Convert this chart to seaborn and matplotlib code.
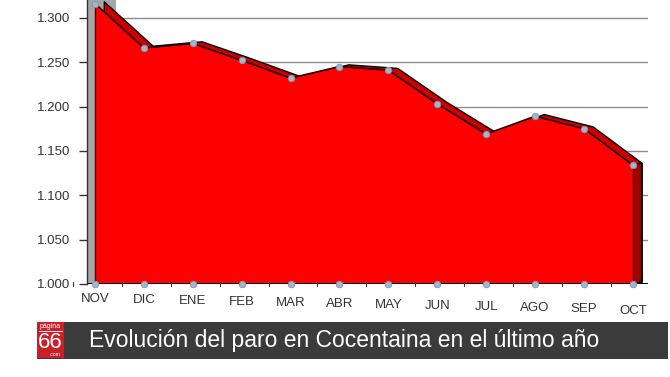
import matplotlib
matplotlib.use("Agg")
import matplotlib.pyplot as plt
import matplotlib.transforms as mtransforms
from matplotlib.patches import Rectangle, Polygon
import numpy as np
import pandas as pd
import seaborn as sns

# ---- data ----
months = ["NOV", "DIC", "ENE", "FEB", "MAR", "ABR", "MAY", "JUN", "JUL", "AGO", "SEP", "OCT"]
paro = [1.316, 1.266, 1.271, 1.252, 1.232, 1.245, 1.241, 1.203, 1.169, 1.189, 1.175, 1.134]
yticks = [1.000, 1.050, 1.100, 1.150, 1.200, 1.250, 1.300]
ytick_labels = ["1.000", "1.050", "1.100", "1.150", "1.200", "1.250", "1.300"]
title = "Evolución del paro en Cocentaina en el último año"

sns.set_style("white")
plt.rcParams["font.family"] = ["Liberation Sans", "DejaVu Sans"]

df = pd.DataFrame({"mes": months, "x": np.arange(len(months)), "paro": paro})
base = 1.0

W, H = 670, 377
fig = plt.figure(figsize=(W / 100, H / 100), dpi=100)
fig.patch.set_facecolor("white")
ax = fig.add_axes([87 / W, 1 - 284 / H, (648 - 87) / W, 284 / H])
ax.set_xlim(-0.164, 11.31)
ax.set_ylim(1.0, 1.320)
ax.set_facecolor("white")

x = df["x"].to_numpy(dtype=float)
y = df["paro"].to_numpy(dtype=float)
dx, dy = 0.18, 0.0025

# gridlines
for t in yticks[1:]:
    ax.axhline(t, color="#8c8c8c", lw=1.0, zorder=0)

# grey side wall
ax.add_patch(Rectangle((-0.164, 1.0), 0.164, 0.32, facecolor="#a6a6a6", edgecolor="none", zorder=1))
ax.add_patch(Rectangle((0.0, 1.303), 0.42, 0.02, facecolor="#a6a6a6", edgecolor="none", zorder=1))

# back (depth) face
ax.fill_between(x + dx, base + dy, y + dy, color="#cc0000", edgecolor="black", lw=1.0, zorder=2)
# right side face
ax.add_patch(Polygon([[x[-1], base], [x[-1], y[-1]], [x[-1] + dx, y[-1] + dy], [x[-1] + dx, base + dy]],
                     closed=True, facecolor="#a00000", edgecolor="black", lw=1.0, zorder=2.5))
# front face
ax.fill_between(x, base, y, color="#ff0000", edgecolor="none", zorder=3)
sns.lineplot(data=df, x="x", y="paro", color="#1a0000", lw=1.2, ax=ax, zorder=4)
ax.plot([x[0], x[0]], [base, y[0]], color="#600000", lw=1.0, zorder=4)

# markers
sns.scatterplot(data=df, x="x", y="paro", s=22, color="#a4b6cc", edgecolor="#7f93ab", linewidth=0.6,
                ax=ax, zorder=5)
sns.scatterplot(x=x, y=[base] * len(x), s=22, color="#a4b6cc", edgecolor="#7f93ab", linewidth=0.6,
                ax=ax, zorder=5, clip_on=False)

# baseline
ax.axhline(base, color="black", lw=1.4, zorder=4.5)

for s in ["top", "right", "bottom"]:
    ax.spines[s].set_visible(False)
ax.spines["left"].set_color("#333333")
ax.spines["left"].set_linewidth(1.0)
ax.spines["left"].set_zorder(6)

ax.set_yticks(yticks)
ax.set_yticklabels(ytick_labels, fontsize=9.5, color="#333333")
ax.tick_params(axis="y", direction="out", length=6, width=1, color="#333333", pad=6, left=True)
ax.set_xticks([])
ax.set_xlabel("")
ax.set_ylabel("")

# x labels with slight perspective drop
trans = mtransforms.blended_transform_factory(ax.transData, ax.transAxes)
n = len(months)
for i, m in enumerate(months):
    off_px = 14.5 + 12 * i / (n - 1)
    tr = mtransforms.offset_copy(trans, fig=fig, x=0, y=-off_px * 0.72, units="points")
    ax.text(i, 0, m, transform=tr, ha="center", va="center", fontsize=9.5, color="#333333")
    # small tick marks
    ax.plot([i - 0.45, i - 0.45], [base - 0.002, base + 0.002], color="#333333", lw=0.8,
            zorder=4.6, clip_on=False)

# bottom banner
fig.patches.append(Rectangle((37 / W, 1 - 359 / H), (668 - 37) / W, 37 / H, transform=fig.transFigure,
                             facecolor="#3b3b3b", edgecolor="none", zorder=1))
fig.patches.append(Rectangle((37 / W, 1 - 358 / H), 27 / W, 36 / H, transform=fig.transFigure,
                             facecolor="#c8202a", edgecolor="none", zorder=2))
fig.text(50.5 / W, 1 - 326.5 / H, "página", color="white", fontsize=5, ha="center", va="center", zorder=3)
fig.lines.append(plt.Line2D([39 / W, 62 / W], [1 - 330.5 / H, 1 - 330.5 / H], transform=fig.transFigure,
                            color="white", lw=0.6, zorder=3))
fig.text(50.5 / W, 1 - 342 / H, "66", color="white", fontsize=16, ha="center", va="center",
         zorder=3)
fig.text(55 / W, 1 - 354.5 / H, ".com", color="white", fontsize=3.5, ha="center", va="center", zorder=3)
fig.text(89 / W, 1 - 340 / H, title, color="white", fontsize=16.5, ha="left", va="center", zorder=3)

fig.savefig("out.png", dpi=100)
